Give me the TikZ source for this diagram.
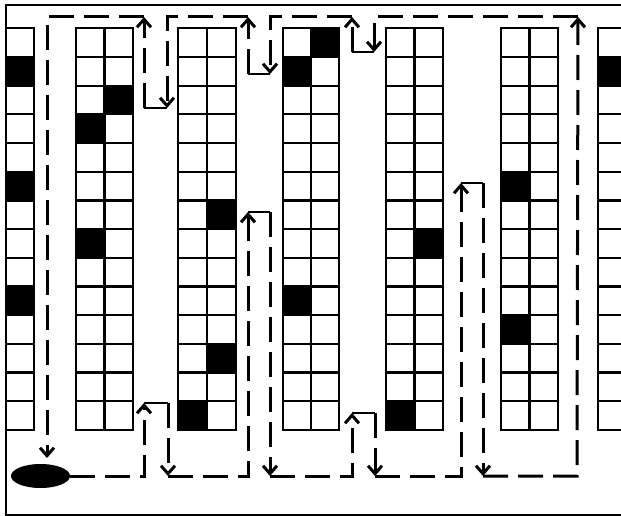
\documentclass[tikz,border=0pt]{standalone}
\usetikzlibrary{arrows.meta,shapes.geometric}
\begin{document}
\begin{tikzpicture}[x=1pt,y=-1pt,
  cell/.style={draw=black,line width=2.2pt},
  route/.style={line width=3pt,dash pattern=on 25pt off 10pt},
  link/.style={line width=2.8pt},
  tip/.style={-{Straight Barb[length=8pt,width=14pt,line width=3pt]}},
  frame/.style={line width=2.2pt}]
\useasboundingbox (0,0) rectangle (621,516);
% frame
\draw[frame] (650,5) -- (6,5) -- (6,515) -- (650,515);
% black cells
\foreach \cx/\r in {6/1,6/5,6/9,104.5/2,76/3,76/7,206.5/6,206.5/11,178/13,
  311/0,283/1,283/9,414.5/7,386/13,501/5,501/10,598/1}
  \fill[black] (\cx,{28.3+\r*28.69}) rectangle +(28.5,28.69);
% racks
\foreach \x/\n/\w in {6/1/28,76/2/28.5,178/2/29,283/2/28,386/2/28.5,501/2/28.5,598/2/28.5} {
  \foreach \c in {1,...,\n}
    \foreach \r in {0,...,13}
      \draw[cell] ({\x+(\c-1)*\w},{28.3+\r*28.69}) rectangle +(\w,28.69);
}
% depot
\node[ellipse,fill=black,minimum width=59pt,minimum height=24pt,inner sep=0pt] (depot) at (40.5,476) {};
% route points
\coordinate (a1) at (144,476); \coordinate (a2) at (144,403);
\coordinate (a3) at (168,403); \coordinate (a4) at (168,476);
\coordinate (b1) at (248,476); \coordinate (b2) at (248,212);
\coordinate (b3) at (270,212); \coordinate (b4) at (270,476);
\coordinate (c1) at (352,476); \coordinate (c2) at (352,413);
\coordinate (c3) at (375,413); \coordinate (c4) at (375,476);
\coordinate (d1) at (461,476); \coordinate (d2) at (461,183);
\coordinate (d3) at (483,183); \coordinate (d4) at (483,476);
\coordinate (e1) at (577,476); \coordinate (e2) at (578,17);
\coordinate (f1) at (374,17); \coordinate (f2) at (374,52);
\coordinate (f3) at (352,52); \coordinate (f4) at (352,17);
\coordinate (g1) at (270,17); \coordinate (g2) at (270,74);
\coordinate (g3) at (248,74); \coordinate (g4) at (248,17);
\coordinate (h1) at (167,17); \coordinate (h2) at (167,108);
\coordinate (h3) at (144,108); \coordinate (h4) at (144,17);
\coordinate (i1) at (47,17); \coordinate (i2) at (47,458);
% bottom route
\draw[route,tip] (depot.east) -- (a1) -- (a2);
\draw[link] (a2) -- (a3);
\draw[route,tip] (a3) -- (a4);
\draw[route,tip] (a4) -- (b1) -- (b2);
\draw[link] (b2) -- (b3);
\draw[route,tip] (b3) -- (b4);
\draw[route,tip] (b4) -- (c1) -- (c2);
\draw[link] (c2) -- (c3);
\draw[route,tip] (c3) -- (c4);
\draw[route,tip] (c4) -- (d1) -- (d2);
\draw[link] (d2) -- (d3);
\draw[route,tip] (d3) -- (d4);
\draw[route,tip] (d4) -- (e1) -- (e2);
% top route
\draw[route,tip] (e2) -- (f1) -- (f2);
\draw[link] (f2) -- (f3);
\draw[route,tip] (f3) -- (f4);
\draw[route,tip] (f4) -- (g1) -- (g2);
\draw[link] (g2) -- (g3);
\draw[route,tip] (g3) -- (g4);
\draw[route,tip] (g4) -- (h1) -- (h2);
\draw[link] (h2) -- (h3);
\draw[route,tip] (h3) -- (h4);
\draw[route,tip] (h4) -- (i1) -- (i2);
\end{tikzpicture}
\end{document}
